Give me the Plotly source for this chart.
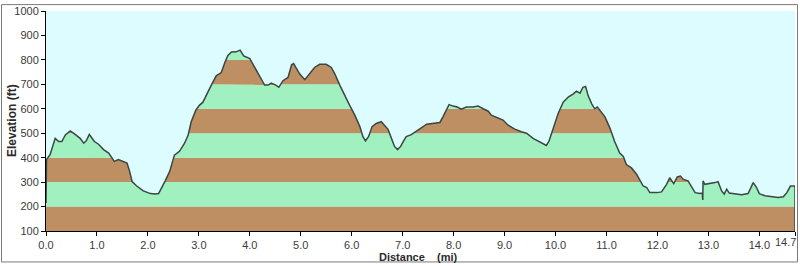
import plotly.graph_objects as go

# ---- data ----
dist = [0.00, 0.01, 0.08, 0.18, 0.25, 0.31, 0.38, 0.475, 0.54, 0.60, 0.67, 0.74, 0.79, 0.85, 0.90, 0.95,
        1.03, 1.13, 1.23, 1.29, 1.34, 1.42, 1.52, 1.59, 1.64, 1.69, 1.78, 1.91, 2.05, 2.14, 2.21, 2.27,
        2.34, 2.43, 2.52, 2.62, 2.72, 2.79, 2.85, 2.94, 3.01, 3.08, 3.15, 3.24, 3.34, 3.44, 3.51, 3.57,
        3.64, 3.73, 3.81, 3.88, 4.00, 4.06, 4.14, 4.23, 4.29, 4.36, 4.42, 4.51, 4.57, 4.65, 4.75, 4.82,
        4.86, 4.90, 4.98, 5.08, 5.17, 5.27, 5.37, 5.50, 5.60, 5.67, 5.77, 5.86, 5.96, 6.06, 6.16, 6.22,
        6.27, 6.33, 6.40, 6.48, 6.58, 6.65, 6.71, 6.78, 6.84, 6.90, 6.96, 7.01, 7.07, 7.16, 7.24, 7.33,
        7.47, 7.60, 7.73, 7.79, 7.86, 7.91, 7.99, 8.07, 8.15, 8.25, 8.38, 8.48, 8.58, 8.68, 8.74, 8.87,
        8.97, 9.07, 9.20, 9.33, 9.43, 9.56, 9.69, 9.82, 9.87, 9.95, 10.05, 10.15, 10.25, 10.35, 10.41,
        10.48, 10.54, 10.59, 10.64, 10.71, 10.77, 10.82, 10.89, 10.97, 11.07, 11.16, 11.26, 11.33, 11.39,
        11.49, 11.59, 11.66, 11.72, 11.79, 11.85, 11.99, 12.08, 12.18, 12.24, 12.32, 12.39, 12.45, 12.51,
        12.60, 12.67, 12.74, 12.83, 12.88, 12.89, 12.895, 12.93, 13.03, 13.13, 13.19, 13.26, 13.31, 13.36,
        13.41, 13.52, 13.65, 13.78, 13.84, 13.88, 13.94, 14.00, 14.11, 14.24, 14.37, 14.47, 14.54, 14.61,
        14.70]
elev = [215, 392, 412, 479, 466, 466, 493, 509, 500, 489, 479, 459, 469, 495, 479, 466,
        455, 433, 419, 399, 385, 392, 385, 378, 345, 302, 284, 264, 253, 251, 253, 275,
        305, 345, 410, 426, 459, 493, 547, 594, 614, 627, 654, 695, 735, 748, 789, 818,
        832, 833, 840, 816, 805, 782, 755, 715, 697, 697, 705, 697, 688, 715, 728, 780,
        785, 770, 742, 719, 742, 769, 782, 782, 769, 742, 695, 654, 614, 574, 527, 486,
        469, 486, 527, 540, 547, 531, 517, 479, 446, 433, 446, 466, 486, 493, 506, 517,
        537, 540, 544, 567, 594, 617, 611, 607, 598, 607, 607, 611, 600, 590, 574, 563,
        554, 533, 517, 506, 500, 479, 463, 450, 466, 520, 580, 627, 648, 661, 672,
        664, 688, 691, 654, 620, 600, 607, 587, 567, 520, 466, 419, 405, 372,
        358, 332, 305, 284, 278, 257, 257, 260, 291, 318, 294, 321, 325, 311,
        305, 280, 257, 253, 255, 227, 305, 291, 294, 298, 302, 264, 251, 271,
        255, 253, 248, 253, 278, 298, 280, 253, 244, 240, 237, 240, 257, 284,
        284]

x_ticks = [0, 1, 2, 3, 4, 5, 6, 7, 8, 9, 10, 11, 12, 13, 14, 14.7]
x_tick_labels = ["0.0", "1.0", "2.0", "3.0", "4.0", "5.0", "6.0", "7.0", "8.0", "9.0",
                 "10.0", "11.0", "12.0", "13.0", "14.0", "14.7"]
band_levels = [100, 200, 300, 400, 500, 600, 700, 800, 900, 1000]

BROWN = "#BD8F63"
GREEN = "#A0F0C0"
BG = "#DCFCFF"
LINE = "#3A4742"
FONT = "Liberation Sans, Arial, sans-serif"

# insert exact crossing points with band boundaries so bands are clipped cleanly
dx, dy = [dist[0]], [elev[0]]
for i in range(1, len(dist)):
    x0, y0, x1, y1 = dist[i - 1], elev[i - 1], dist[i], elev[i]
    cross = []
    for lv in band_levels:
        if (y0 - lv) * (y1 - lv) < 0:
            t = (lv - y0) / (y1 - y0)
            cross.append((x0 + t * (x1 - x0), lv))
    cross.sort(key=lambda p: p[0])
    for cx, cy in cross:
        dx.append(cx)
        dy.append(cy)
    dx.append(x1)
    dy.append(y1)

fig = go.Figure()
for k in range(len(band_levels) - 1):
    hi = band_levels[k + 1]
    yk = [min(v, hi) for v in dy]
    color = BROWN if k % 2 == 0 else GREEN
    fig.add_trace(go.Scatter(
        x=dx, y=yk, mode="lines", line=dict(width=0, color=color),
        fill="tozeroy" if k == 0 else "tonexty", fillcolor=color,
        hoverinfo="skip", showlegend=False))

fig.add_trace(go.Scatter(x=dist, y=elev, mode="lines",
                         line=dict(color=LINE, width=1.5), showlegend=False))
fig.add_trace(go.Scatter(x=[dist[-1], dist[-1]], y=[elev[-1], band_levels[0]], mode="lines",
                         line=dict(color=LINE, width=1.5), showlegend=False))

tickfont = dict(family=FONT, size=11, color="#3a3a3a")
# last tick label drawn as annotation so it stays inside the figure (as in the reference)
shown_ticktext = x_tick_labels[:-1] + [""]

fig.update_layout(
    width=800, height=266,
    margin=dict(l=46, r=5, t=7, b=35),
    paper_bgcolor="white", plot_bgcolor=BG,
    showlegend=False,
    xaxis=dict(range=[0, 14.7], tickvals=x_ticks, ticktext=shown_ticktext,
               showgrid=False, zeroline=False, showline=True, linecolor="black", linewidth=1,
               ticks="outside", ticklen=4, tickcolor="black", tickfont=tickfont),
    yaxis=dict(range=[100, 1000], tickvals=band_levels, showgrid=False, zeroline=False,
               showline=True, linecolor="black", linewidth=1,
               ticks="outside", ticklen=4, tickcolor="black", tickfont=tickfont),
    annotations=[
        dict(text="<b>Elevation (ft)</b>", xref="paper", yref="paper",
             x=(12 - 46) / 749, y=0.5, xanchor="center", yanchor="middle",
             textangle=-90, showarrow=False,
             font=dict(family=FONT, size=12, color="#2a2a2a")),
        dict(text="<b>Distance&nbsp;&nbsp;&nbsp;&nbsp;(mi)</b>", xref="paper", yref="paper",
             x=(418 - 46) / 749, y=-(257 - 231) / 224, xanchor="center", yanchor="middle",
             showarrow=False,
             font=dict(family=FONT, size=11, color="#2a2a2a")),
        dict(text=x_tick_labels[-1], xref="x", yref="paper",
             x=x_ticks[-1], y=-(242 - 231) / 224, xanchor="right", yanchor="middle",
             xshift=3, showarrow=False, font=tickfont),
    ],
    shapes=[dict(type="rect", xref="paper", yref="paper",
                 x0=(1.5 - 46) / 749, x1=(797.5 - 46) / 749,
                 y0=-(262.5 - 231) / 224, y1=(231 - 0.5) / 224,
                 line=dict(color="#7a7a7a", width=1))],
)

fig.write_html("out.html")
